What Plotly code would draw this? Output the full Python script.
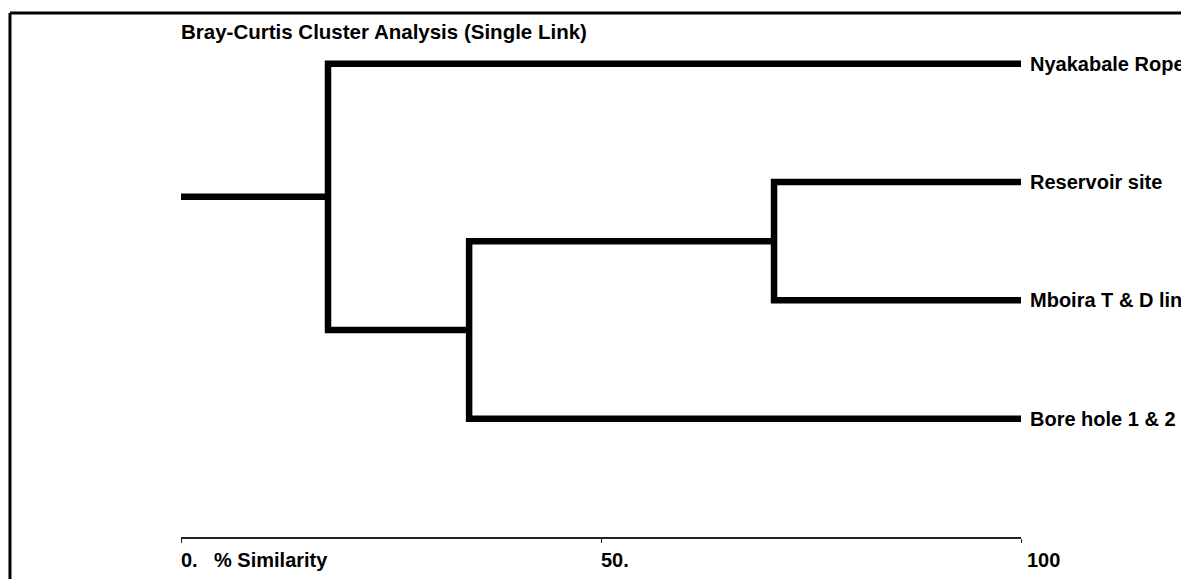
import plotly.graph_objects as go

# leaves, top to bottom
leaves = ["Nyakabale Ropeway", "Reservoir site", "Mboira T & D line", "Bore hole 1 & 2 area"]
leaf_pos = [1, 2, 3, 4]

# merges: (left child, right child, % similarity) ; children index leaves (0..3) or earlier nodes (4..)
merges = [
    (1, 2, 70.6),
    (4, 3, 34.3),
    (0, 5, 17.5),
]

tick_vals = [0, 50, 100]
tick_text = ["0.", "50.", "100"]

title = "Bray-Curtis Cluster Analysis (Single Link)"
axis_title = "% Similarity"

FONT = "Liberation Sans, Arial, sans-serif"

# build node positions
node_x = [100.0] * len(leaves)
node_y = list(map(float, leaf_pos))
xs, ys = [], []
for a, b, sim in merges:
    # horizontal from each child to merge level, then vertical connector
    xs += [node_x[a], sim, sim, node_x[b], None]
    ys += [node_y[a], node_y[a], node_y[b], node_y[b], None]
    node_x.append(sim)
    node_y.append((node_y[a] + node_y[b]) / 2)

# root stub
xs += [0, node_x[-1], None]
ys += [node_y[-1], node_y[-1], None]

fig = go.Figure()
fig.add_trace(go.Scatter(x=xs, y=ys, mode="lines",
                         line=dict(color="black", width=6.5),
                         cliponaxis=False, hoverinfo="skip", showlegend=False))

for name, p in zip(leaves, leaf_pos):
    fig.add_annotation(x=100, y=p, text="<b>%s</b>" % name, showarrow=False,
                       xanchor="left", yanchor="middle", xshift=7,
                       font=dict(size=20, color="black", family=FONT))

for v, t in zip(tick_vals, tick_text):
    fig.add_annotation(x=v, y=0, xref="x", yref="paper", text="<b>%s</b>" % t,
                       showarrow=False, xanchor="left", yanchor="top",
                       xshift=(4 if v == 100 else -2), yshift=-10,
                       font=dict(size=20, color="black", family=FONT))

fig.add_annotation(x=0, y=0, xref="x", yref="paper", text="<b>%s</b>" % axis_title,
                   showarrow=False, xanchor="left", yanchor="top", xshift=31, yshift=-10,
                   font=dict(size=20, color="black", family=FONT))

fig.add_annotation(x=0, y=1, xref="x", yref="paper", text="<b>%s</b>" % title,
                   showarrow=False, xanchor="left", yanchor="middle", xshift=-2, yshift=9,
                   font=dict(size=20.5, color="black", family=FONT))

# frame lines (left and top)
fig.add_shape(type="line", xref="paper", yref="paper", x0=-0.2036, x1=-0.2036, y0=1.0543, y1=-0.2,
              line=dict(color="black", width=3))
fig.add_shape(type="line", xref="paper", yref="paper", x0=-0.2036, x1=1.3, y0=1.0543, y1=1.0543,
              line=dict(color="black", width=3))

fig.update_layout(
    width=1181, height=571,
    margin=dict(l=173, r=168, t=32, b=42),
    paper_bgcolor="white", plot_bgcolor="white",
    font=dict(family=FONT, color="black"),
    showlegend=False,
)
fig.update_xaxes(range=[0, 100], showgrid=False, zeroline=False,
                 showline=True, linecolor="#222", linewidth=1.5,
                 ticks="outside", ticklen=4, tickcolor="#222", tickwidth=1,
                 tickvals=tick_vals, showticklabels=False, fixedrange=True)
fig.update_yaxes(range=[5, 0.8], showgrid=False, zeroline=False, visible=False, fixedrange=True)

fig.write_html("out.html", config=dict(displayModeBar=False))
